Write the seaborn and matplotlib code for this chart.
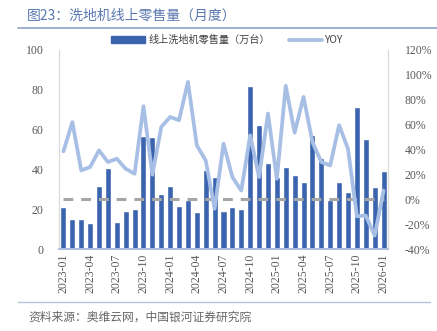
import matplotlib
matplotlib.use("Agg")
import matplotlib.pyplot as plt
import seaborn as sns
import pandas as pd
import numpy as np
from matplotlib.patches import Rectangle
from matplotlib.lines import Line2D

months = [f"{y}-{m:02d}" for y in (2023, 2024, 2025) for m in range(1, 13)] + ["2026-01"]
sales = [21.0, 15.1, 15.0, 13.3, 31.8, 40.8, 13.5, 19.3, 20.0, 56.6, 56.1, 27.7,
         31.8, 21.7, 24.4, 18.8, 39.8, 36.1, 19.0, 21.2, 20.3, 81.8, 62.5, 43.2,
         36.1, 41.2, 37.3, 33.9, 57.1, 45.9, 24.7, 33.8, 28.7, 71.4, 55.5, 31.1,
         39.2]
yoy = [38.5, 62.0, 23.2, 25.9, 39.3, 29.9, 32.6, 24.5, 20.5, 74.8, 19.7, 58.1,
       66.2, 63.5, 94.4, 43.3, 31.2, -7.7, 44.7, 17.8, 7.0, 51.4, 17.8, 68.9,
       16.5, 91.2, 53.5, 82.3, 46.0, 29.9, 27.2, 59.5, 40.6, -13.7, -13.1, -29.2,
       7.0]
tick_labels = months[::3]
left_ticks = [0, 20, 40, 60, 80, 100]
right_ticks = [-40, -20, 0, 20, 40, 60, 80, 100, 120]

title = "图23：洗地机线上零售量（月度）"
bar_label = "线上洗地机零售量（万台）"
line_label = "YOY"
source = "资料来源：奥维云网，中国银河证券研究院"

BAR = "#3b64ae"
LINE = "#a8bfe5"
GRAYTXT = "#595959"

sns.set_theme(style="white")
plt.rcParams['font.family'] = ['Noto Sans CJK SC', 'DejaVu Sans']

df = pd.DataFrame({"month": months, "sales": sales, "yoy": yoy})
df["idx"] = np.arange(len(df))

fig = plt.figure(figsize=(4.37, 3.31), dpi=100)
ax = fig.add_axes([59 / 437, 1 - 249 / 331, 329 / 437, 199 / 331])

sns.barplot(data=df, x="month", y="sales", color=BAR, width=0.68,
            saturation=1, ax=ax, zorder=2)
ax.set_ylim(0, 100)
ax.set_xlim(-0.5, len(months) - 0.5)
ax.set_yticks(left_ticks)
ax.set_yticklabels([str(t) for t in left_ticks], family="Liberation Serif",
                   fontsize=8.5, color=GRAYTXT)
ax.set_xticks(range(0, len(months), 3))
ax.set_xticklabels(tick_labels, rotation=90, family="Liberation Serif",
                   fontsize=8.5, color=GRAYTXT)
ax.tick_params(axis="both", length=0, pad=3)
ax.tick_params(axis="y", pad=11)
ax.set_xlabel("")
ax.set_ylabel("")

ax2 = ax.twinx()
ax2.set_ylim(-40, 120)
ax2.hlines(0, 0, len(months) - 1, colors="#a6a6a6", linewidth=2.2,
           linestyles=(0, (3.2, 2.6)), zorder=3)
sns.lineplot(data=df, x="idx", y="yoy", color=LINE, linewidth=2.7, ax=ax2,
             zorder=4, solid_joinstyle="round", solid_capstyle="round")
ax2.set_xlim(-0.5, len(months) - 0.5)
ax2.set_yticks(right_ticks)
ax2.set_yticklabels([f"{t}%" for t in right_ticks], family="Liberation Serif",
                    fontsize=8.5, color=GRAYTXT)
ax2.tick_params(axis="y", length=0, pad=12)
ax2.set_ylabel("")
ax2.set_xlabel("")

for a in (ax, ax2):
    a.spines["top"].set_visible(False)
    a.spines["left"].set_color("#d9d9d9")
    a.spines["right"].set_color("#d9d9d9")
    a.spines["left"].set_linewidth(0.8)
    a.spines["right"].set_linewidth(0.8)
    a.spines["bottom"].set_color("#a9bde0")
    a.spines["bottom"].set_linewidth(1.2)
ax.spines["bottom"].set_zorder(5)

handles = [Rectangle((0, 0), 1, 1, color=BAR),
           Line2D([0], [0], color=LINE, linewidth=2.7)]
leg = fig.legend(handles, [bar_label, line_label], loc="center",
                 bbox_to_anchor=(227.5 / 437, 1 - 40 / 331), ncol=2, frameon=False,
                 fontsize=7.3, handlelength=3.3, handleheight=0.65,
                 columnspacing=1.9, handletextpad=0.3, borderpad=0.2,
                 labelcolor="#404040")

fig.text(27 / 437, 1 - 16 / 331, title, fontsize=10, color="#5a78b0",
         va="center", ha="left")
fig.add_artist(Line2D([18 / 437, 1.0], [1 - 28 / 331, 1 - 28 / 331],
                      color="#8fa3c8", linewidth=1.2))
fig.add_artist(Line2D([18 / 437, 430 / 437], [1 - 302 / 331, 1 - 302 / 331],
                      color="#b4c3de", linewidth=1.0))
fig.text(28 / 437, 1 - 317 / 331, source, fontsize=8.5, color="#666666",
         va="center", ha="left", style="italic")

fig.savefig("out.png", dpi=100)
